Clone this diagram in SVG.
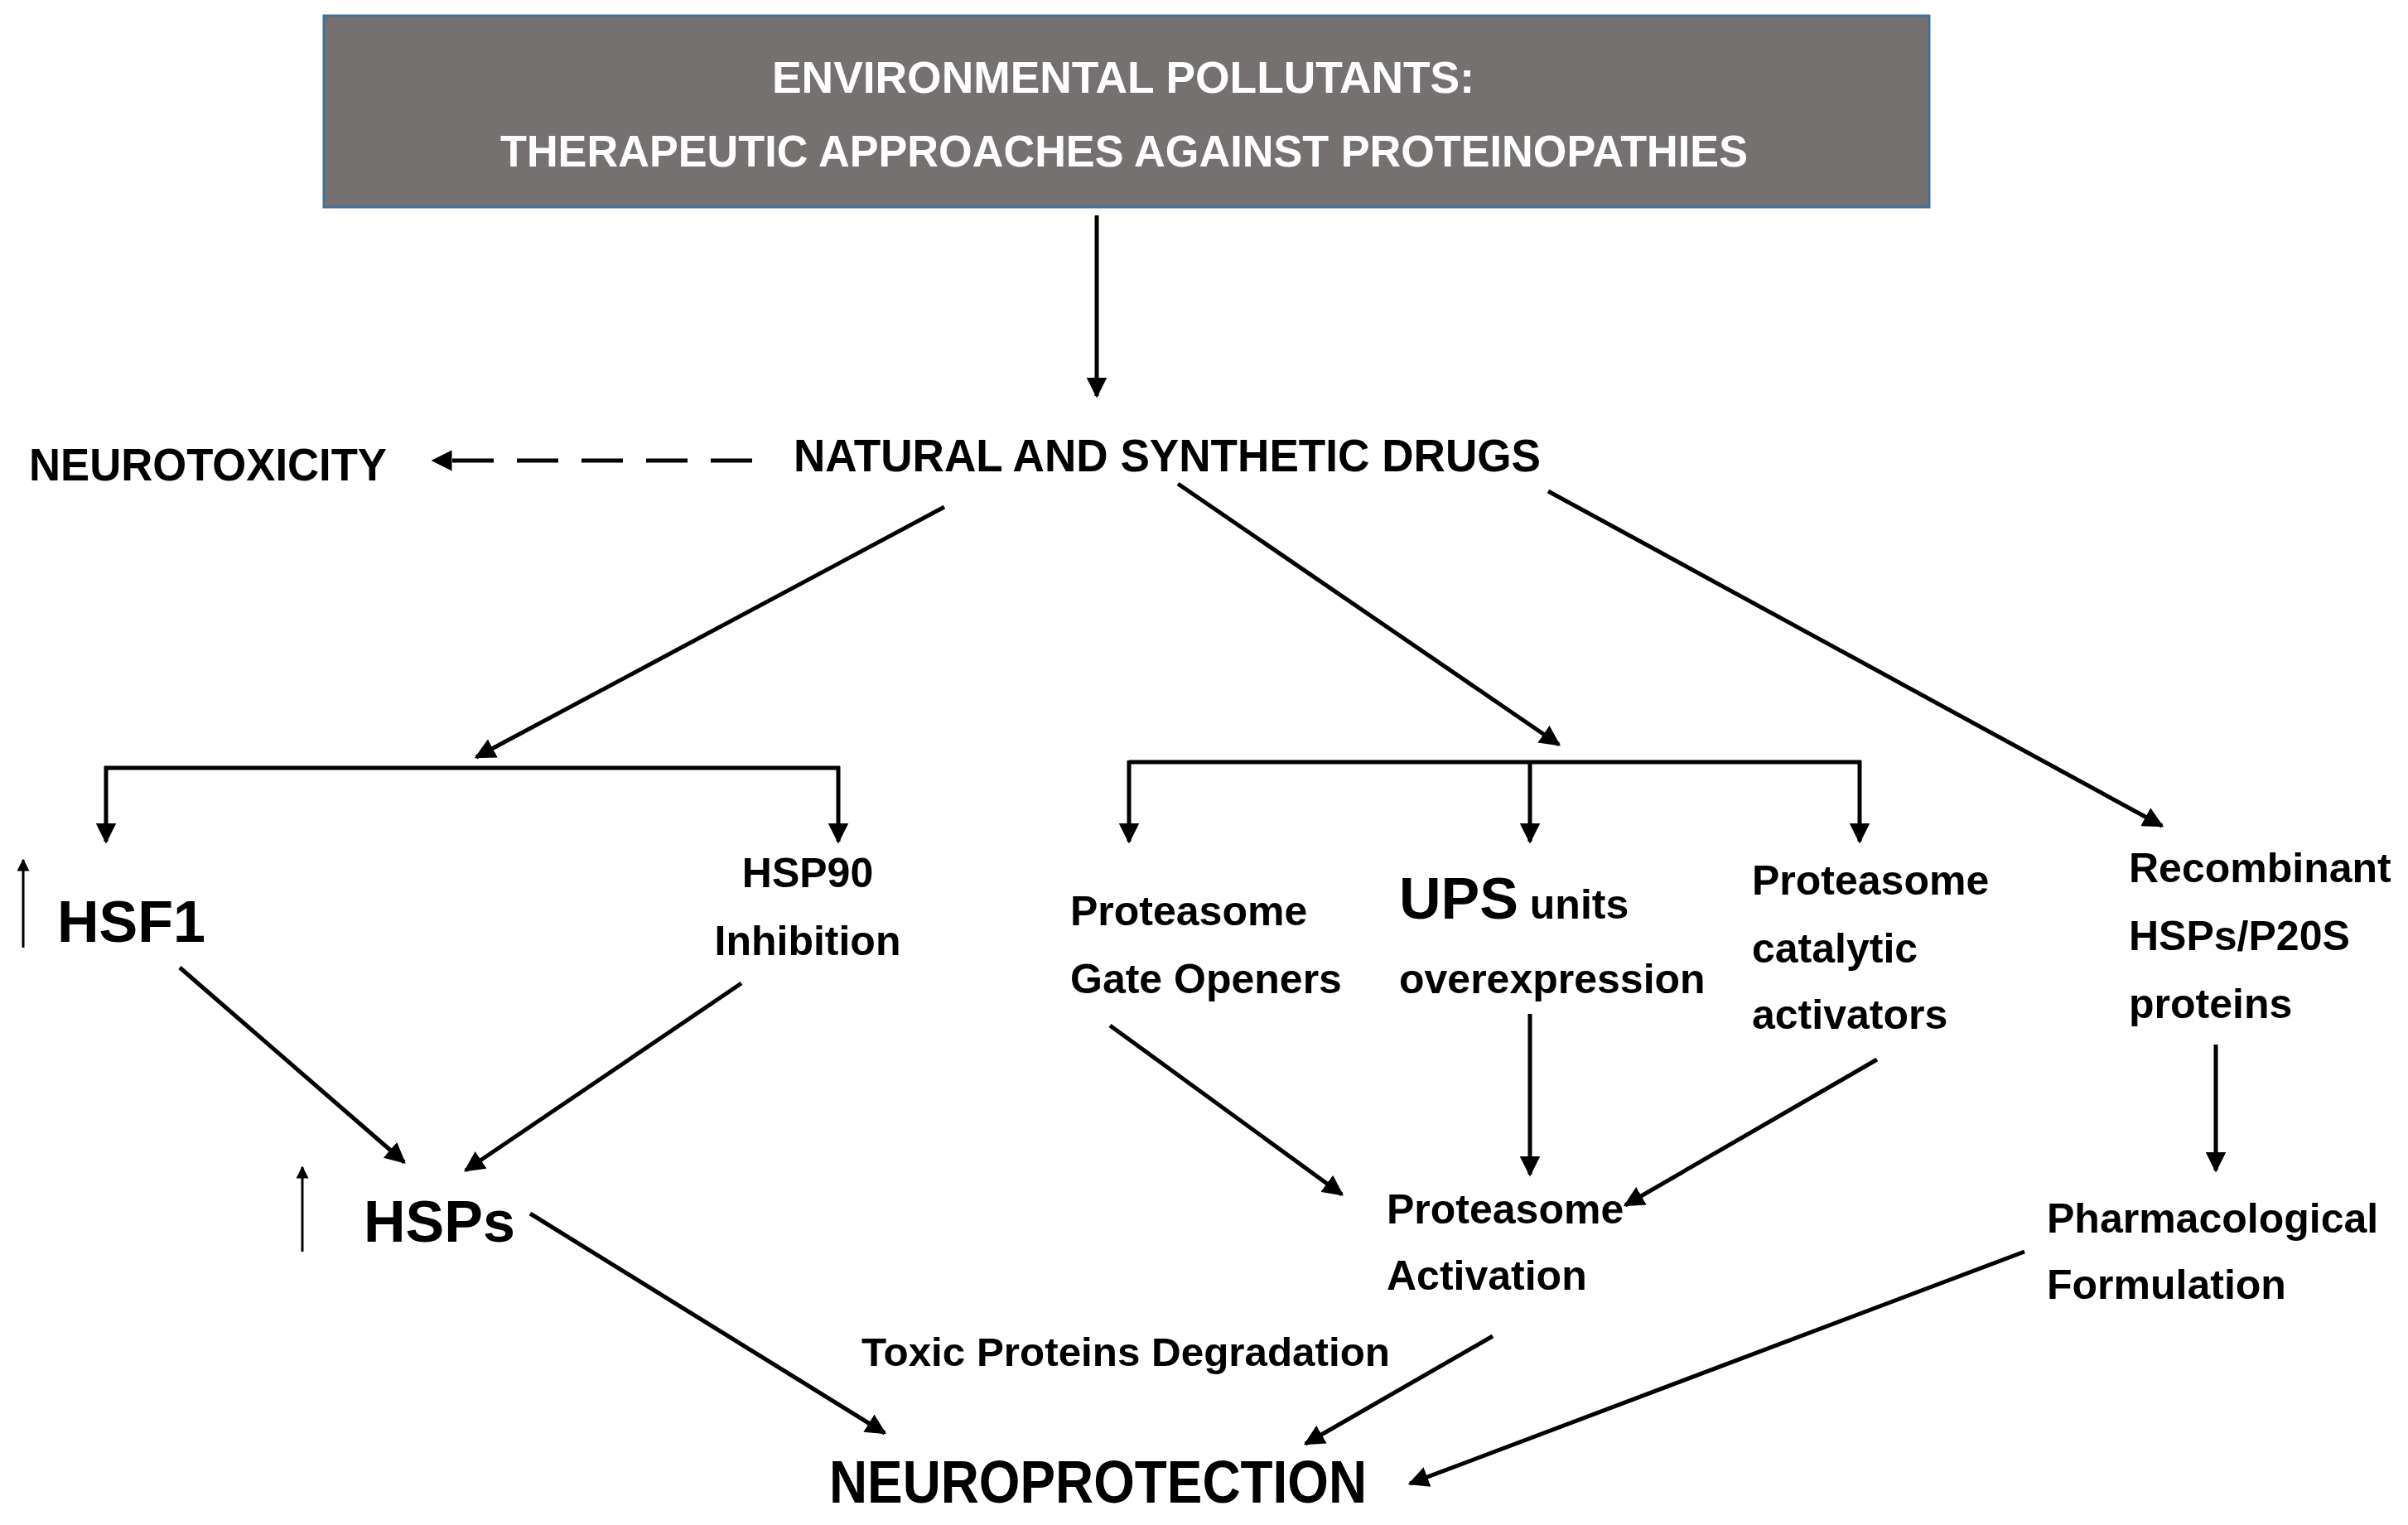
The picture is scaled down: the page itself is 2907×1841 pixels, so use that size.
<svg xmlns="http://www.w3.org/2000/svg" width="2907" height="1841" viewBox="0 0 2907 1841">
<defs>
<marker id="ah" viewBox="0 0 10 10" refX="9" refY="5" markerWidth="5" markerHeight="5" orient="auto" markerUnits="strokeWidth"><path d="M0,0 L10,5 L0,10 z" fill="#000"/></marker>
</defs>
<style>
.t{font-family:"Liberation Sans",Arial,sans-serif;font-weight:bold;fill:#000}
.m{font-size:50px}
.b{font-size:70px}
.s{font-size:49px}
.w{fill:#fff;font-size:54px}
.c line,.c polyline{stroke:#000;stroke-width:5;fill:none}
.a{marker-end:url(#ah)}
</style>
<rect width="2907" height="1841" fill="#fff"/>
<g id="title"><rect x="391" y="19" width="1938" height="231" fill="#767171" stroke="#41719c" stroke-width="3"/>
<text class="t w" x="1356" y="112" text-anchor="middle" textLength="848" lengthAdjust="spacingAndGlyphs">ENVIRONMENTAL POLLUTANTS:</text>
<text class="t w" x="1357" y="201" text-anchor="middle" textLength="1506" lengthAdjust="spacingAndGlyphs">THERAPEUTIC APPROACHES AGAINST PROTEINOPATHIES</text></g>
<g id="drugs"><text class="t" font-size="56" x="958" y="569" textLength="902" lengthAdjust="spacingAndGlyphs">NATURAL AND SYNTHETIC DRUGS</text></g>
<g id="neurotox"><text class="t" font-size="56" x="35" y="580" textLength="432" lengthAdjust="spacingAndGlyphs">NEUROTOXICITY</text></g>
<g id="hsf1"><text class="t b" x="69" y="1137">HSF1</text></g>
<g id="hsp90"><text class="t m" x="975" y="1071" text-anchor="middle">HSP90</text><text class="t m" x="975" y="1153" text-anchor="middle">Inhibition</text></g>
<g id="gate"><text class="t m" x="1292" y="1117">Proteasome</text><text class="t m" x="1292" y="1199">Gate Openers</text></g>
<g id="ups"><text class="t m" x="1689" y="1109"><tspan class="b">UPS</tspan> units</text><text class="t m" x="1689" y="1199">overexpression</text></g>
<g id="catal"><text class="t m" x="2115" y="1080">Proteasome</text><text class="t m" x="2115" y="1162">catalytic</text><text class="t m" x="2115" y="1242">activators</text></g>
<g id="recomb"><text class="t m" x="2570" y="1065">Recombinant</text><text class="t m" x="2570" y="1147">HSPs/P20S</text><text class="t m" x="2570" y="1229">proteins</text></g>
<g id="hsps"><text class="t b" x="439" y="1499">HSPs</text></g>
<g id="activ"><text class="t m" x="1674" y="1477">Proteasome</text><text class="t m" x="1674" y="1557">Activation</text></g>
<g id="pharm"><text class="t m" x="2471" y="1488">Pharmacological</text><text class="t m" x="2471" y="1568">Formulation</text></g>
<g id="toxic"><text class="t s" x="1040" y="1649" textLength="638" lengthAdjust="spacingAndGlyphs">Toxic Proteins Degradation</text></g>
<g id="neuroprot"><text class="t" font-size="72" x="1001" y="1814" textLength="649" lengthAdjust="spacingAndGlyphs">NEUROPROTECTION</text></g>
<g id="connectors" class="c">
<line class="a" x1="1324" y1="260" x2="1324" y2="478"/>
<line class="a" x1="908" y1="556" x2="523" y2="556" stroke-dasharray="50,28"/>
<line class="a" x1="1140" y1="612" x2="575" y2="914"/>
<line class="a" x1="1422" y1="584" x2="1882" y2="899"/>
<line class="a" x1="1869" y1="593" x2="2610" y2="997"/>
<line x1="126" y1="927" x2="1014" y2="927"/>
<line class="a" x1="128" y1="925" x2="128" y2="1016"/>
<line class="a" x1="1012" y1="925" x2="1012" y2="1016"/>
<line x1="1363" y1="920" x2="2247" y2="920"/>
<line class="a" x1="1363" y1="918" x2="1363" y2="1016"/>
<line class="a" x1="1847" y1="918" x2="1847" y2="1016"/>
<line class="a" x1="2245" y1="918" x2="2245" y2="1016"/>
<line class="a" x1="28" y1="1144" x2="28" y2="1038" style="stroke-width:3"/>
<line class="a" x1="365" y1="1511" x2="365" y2="1409" style="stroke-width:3"/>
<line class="a" x1="217" y1="1168" x2="488" y2="1403"/>
<line class="a" x1="895" y1="1187" x2="562" y2="1413"/>
<line class="a" x1="1340" y1="1238" x2="1620" y2="1442"/>
<line class="a" x1="1847" y1="1224" x2="1847" y2="1418"/>
<line class="a" x1="2266" y1="1279" x2="1962" y2="1455"/>
<line class="a" x1="2675" y1="1261" x2="2675" y2="1413"/>
<line class="a" x1="640" y1="1465" x2="1068" y2="1730"/>
<line class="a" x1="1802" y1="1613" x2="1576" y2="1743"/>
<line class="a" x1="2444" y1="1511" x2="1702" y2="1791"/>
</g>
</svg>
